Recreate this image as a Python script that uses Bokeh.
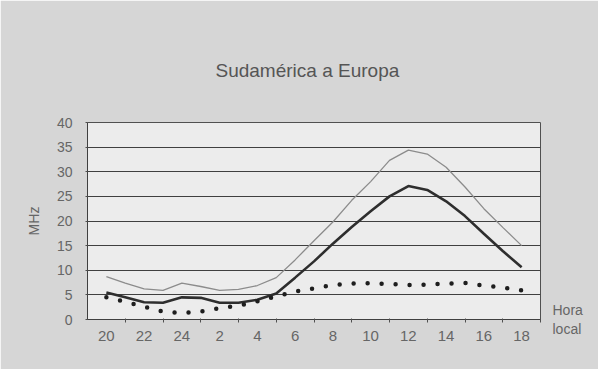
from bokeh.plotting import figure
from bokeh.models import FixedTicker, LinearAxis, Range1d
from bokeh.embed import file_html
from bokeh.resources import INLINE

# Data: hourly values, local time from 20 h to 18 h the next day
hours = ["20", "21", "22", "23", "24", "1", "2", "3", "4", "5", "6", "7",
         "8", "9", "10", "11", "12", "13", "14", "15", "16", "17", "18"]
upper = [8.7, 7.4, 6.2, 5.9, 7.4, 6.7, 5.9, 6.1, 6.9, 8.5, 12.1, 16.0,
         19.8, 24.2, 28.0, 32.3, 34.4, 33.6, 30.9, 26.9, 22.5, 18.7, 15.0]
middle = [5.5, 4.5, 3.5, 3.4, 4.5, 4.4, 3.4, 3.4, 4.0, 5.3, 8.5, 11.8,
          15.4, 18.8, 22.0, 25.0, 27.1, 26.3, 24.0, 21.0, 17.4, 13.9, 10.6]
lower = [4.5, 3.6, 2.6, 1.6, 1.3, 1.6, 2.3, 2.8, 3.7, 4.7, 5.7, 6.3,
         7.0, 7.3, 7.4, 7.2, 7.0, 7.1, 7.3, 7.4, 6.9, 6.5, 5.9]
y_ticks = [0, 5, 10, 15, 20, 25, 30, 35, 40]
title_text = "Sudamérica a Europa"
y_label = "MHz"
x_note = "Hora\nlocal"

xs = list(range(len(hours)))
FONT = "Liberation Sans"
TXT = "#666666"

p = figure(width=598, height=369, output_backend="svg", toolbar_location=None,
           x_range=Range1d(-1, 23), y_range=Range1d(0, 40),
           min_border_left=87, min_border_right=58, min_border_top=122,
           min_border_bottom=50)
p.border_fill_color = "#d6d6d6"
p.background_fill_color = "#ececec"
p.outline_line_color = "#505050"
p.outline_line_width = 1

# title
p.title.text = title_text
p.title.align = "left"
p.title.offset = 128
p.title.standoff = 84
p.title.text_font = FONT
p.title.text_font_size = "19px"
p.title.text_font_style = "normal"
p.title.text_color = "#555555"

# grid
p.xgrid.grid_line_color = None
p.ygrid.ticker = FixedTicker(ticks=y_ticks)
p.ygrid.grid_line_color = "#404040"
p.ygrid.grid_line_width = 1

# x axis
xa = p.xaxis[0]
xa.ticker = FixedTicker(ticks=xs[::2], minor_ticks=[i + 1 for i in xs[::2]])
xa.major_label_overrides = {i: hours[i] for i in xs[::2]}
xa.major_tick_line_color = None
xa.major_tick_out = 0
xa.major_tick_in = 0
xa.minor_tick_line_color = "#505050"
xa.minor_tick_out = 3
xa.minor_tick_in = 1
xa.axis_line_color = "#404040"
xa.major_label_text_font = FONT
xa.major_label_text_font_size = "15px"
xa.major_label_text_color = TXT
xa.major_label_standoff = 8

# y axis
ya = p.yaxis[0]
ya.ticker = FixedTicker(ticks=y_ticks)
ya.major_tick_line_color = "#505050"
ya.major_tick_out = 2
ya.major_tick_in = 0
ya.minor_tick_line_color = None
ya.axis_line_color = "#404040"
ya.major_label_text_font = FONT
ya.major_label_text_font_size = "14px"
ya.major_label_text_color = TXT
ya.major_label_standoff = 13
ya.axis_label = y_label
ya.axis_label_text_font = FONT
ya.axis_label_text_font_size = "14px"
ya.axis_label_text_font_style = "normal"
ya.axis_label_text_color = TXT
ya.axis_label_standoff = 12

# right-hand note "Hora local" as a label of an extra axis
note_axis = LinearAxis(ticker=FixedTicker(ticks=[0]),
                       major_label_overrides={0: x_note})
note_axis.axis_line_color = None
note_axis.major_tick_line_color = None
note_axis.minor_tick_line_color = None
note_axis.major_tick_out = 0
note_axis.major_label_standoff = 12
note_axis.major_label_text_font = FONT
note_axis.major_label_text_font_size = "14px"
note_axis.major_label_text_color = TXT
note_axis.major_label_text_align = "left"
p.add_layout(note_axis, "right")

# series
p.line(xs, upper, line_color="#8c8c8c", line_width=1.3)
p.line(xs, middle, line_color="#2e2e2e", line_width=2.6)
p.line(xs, lower, line_color="#1e1e1e", line_width=4.5, line_dash="0 14",
       line_cap="round")

open("out.html", "w").write(file_html(p, INLINE))
